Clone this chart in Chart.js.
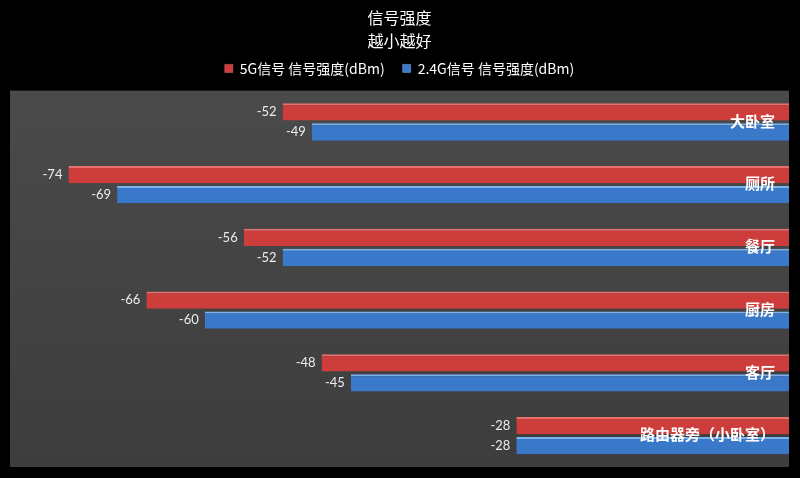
<!DOCTYPE html>
<html>
<head>
<meta charset="utf-8">
<script src="https://cdn.jsdelivr.net/npm/chart.js@4"></script>
<style>
  html, body { margin: 0; padding: 0; background: #000; }
  #wrap { width: 800px; height: 478px; }
</style>
</head>
<body>
<div id="wrap"><canvas id="signal"></canvas></div>
<script>
// rooms, top to bottom
var rooms = ["大卧室", "厕所", "餐厅", "厨房", "客厅", "路由器旁（小卧室）"];
var wifi5g = [-52, -74, -56, -66, -48, -28];
var wifi24g = [-49, -69, -52, -60, -45, -28];
var label5g = "5G信号 信号强度(dBm)";
var label24g = "2.4G信号 信号强度(dBm)";

// gray plot background behind the bars
var plotBg = {
  id: "plotBg",
  beforeDraw: function (chart) {
    var ctx = chart.ctx;
    var a = chart.chartArea;
    ctx.save();
    ctx.fillStyle = "#000";
    ctx.fillRect(0, 0, chart.width, chart.height);
    var g = ctx.createLinearGradient(0, a.top, 0, a.bottom);
    g.addColorStop(0, "#4a4a4a");
    g.addColorStop(1, "#3d3d3d");
    ctx.fillStyle = g;
    ctx.fillRect(a.left, a.top, a.right - a.left, a.bottom - a.top);
    ctx.restore();
  }
};

// value text at the left end of each bar, room names on the right
var barText = {
  id: "barText",
  afterDatasetsDraw: function (chart) {
    var ctx = chart.ctx;
    ctx.save();
    ctx.font = "13px Lato";
    ctx.fillStyle = "#ececec";
    ctx.textAlign = "right";
    ctx.textBaseline = "middle";
    chart.data.datasets.forEach(function (ds, i) {
      chart.getDatasetMeta(i).data.forEach(function (bar, j) {
        ctx.fillText(String(ds.data[j]), bar.x - 6, bar.y);
      });
    });
    var y = chart.scales.y;
    ctx.font = "bold 15px 'Noto Sans CJK SC'";
    ctx.fillStyle = "#ffffff";
    rooms.forEach(function (name, j) {
      ctx.fillText(name, chart.chartArea.right - 14, y.getPixelForValue(j) - 1);
    });
    ctx.restore();
  }
};

var ctx = document.getElementById("signal").getContext("2d");
var signalChart = new Chart(ctx, {
  type: "bar",
  data: {
    labels: rooms,
    datasets: [
      {
        label: label5g,
        data: wifi5g,
        backgroundColor: "#cd3d3b",
        borderColor: "#e8706c",
        borderWidth: { top: 2, bottom: 0, left: 0, right: 0 },
        borderSkipped: false,
      },
      {
        label: label24g,
        data: wifi24g,
        backgroundColor: "#3a78c9",
        borderColor: "#7eb2ec",
        borderWidth: { top: 2, bottom: 0, left: 0, right: 0 },
        borderSkipped: false,
      },
    ],
  },
  options: {
    indexAxis: "y",
    responsive: true,
    maintainAspectRatio: false,
    animation: false,
    categoryPercentage: 0.64,
    barPercentage: 0.86,
    layout: { padding: { left: 10, right: 11, top: 0, bottom: 11 } },
    plugins: {
      title: {
        display: true,
        text: ["信号强度", "越小越好"],
        color: "#ffffff",
        font: { family: "Noto Sans CJK SC", size: 16, weight: "normal", lineHeight: 1.45 },
        padding: { top: 6, bottom: -9 },
      },
      legend: {
        display: true,
        labels: {
          color: "#ffffff",
          font: { family: "Noto Sans CJK SC", size: 14 },
          boxWidth: 8,
          boxHeight: 8,
          padding: 18,
        },
      },
      tooltip: { enabled: false },
    },
    scales: {
      x: {
        display: true,
        position: "top",
        min: -80,
        max: 0,
        ticks: { display: false },
        grid: { display: false, drawTicks: false },
        border: { display: false },
        title: { display: true, text: "", font: { size: 1 }, padding: { top: 0, bottom: 4 } },
      },
      y: {
        display: false,
      },
    },
  },
  plugins: [plotBg, barText],
});
</script>
</body>
</html>
